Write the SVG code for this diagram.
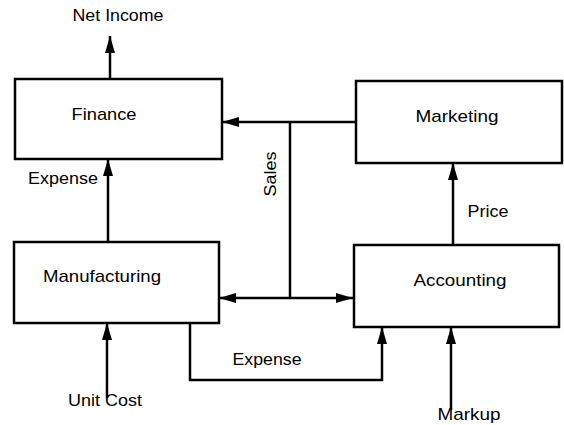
<svg xmlns="http://www.w3.org/2000/svg" width="564" height="425" viewBox="0 0 564 425">
<defs>
<marker id="ah" markerUnits="userSpaceOnUse" markerWidth="18" markerHeight="11" refX="17" refY="5" orient="auto">
<path d="M0,0 L17,5 L0,10 z" fill="#000"/>
</marker>
<style>
.box{fill:#fff;stroke:#000;stroke-width:2.5}
.ln{fill:none;stroke:#000;stroke-width:2.5}
.ar{fill:none;stroke:#000;stroke-width:2.5;marker-end:url(#ah)}
text{font-family:"Liberation Sans",Arial,sans-serif;font-size:17px;fill:#000}
.c{text-anchor:middle}
</style>
</defs>
<rect width="564" height="425" fill="#fff"/>
<g id="connectors">
<path class="ar" d="M110,79 V36"/>
<path class="ar" d="M108,242 V159"/>
<path class="ar" d="M356,122 H222"/>
<path class="ln" d="M290,122 V298"/>
<path class="ar" d="M290,298 H219"/>
<path class="ar" d="M290,298 H353"/>
<path class="ar" d="M453,245 V163"/>
<path class="ar" d="M190,323 V380 H382 V327"/>
<path class="ar" d="M107,398 V323"/>
<path class="ar" d="M451,410 V327"/>
</g>
<g id="finance"><rect class="box" x="15" y="79" width="207" height="80"/><text x="104" y="120" class="c" textLength="65" lengthAdjust="spacingAndGlyphs">Finance</text></g>
<g id="marketing"><rect class="box" x="356" y="81" width="206" height="82"/><text x="457" y="122" class="c" textLength="83" lengthAdjust="spacingAndGlyphs">Marketing</text></g>
<g id="manufacturing"><rect class="box" x="14" y="242" width="205" height="81"/><text x="102" y="282" class="c" textLength="118" lengthAdjust="spacingAndGlyphs">Manufacturing</text></g>
<g id="accounting"><rect class="box" x="354" y="245" width="205" height="82"/><text x="460" y="286" class="c" textLength="93" lengthAdjust="spacingAndGlyphs">Accounting</text></g>
<g id="labels">
<text x="118" y="21" class="c" textLength="91" lengthAdjust="spacingAndGlyphs">Net Income</text>
<text x="63" y="184" class="c" textLength="70" lengthAdjust="spacingAndGlyphs">Expense</text>
<text transform="translate(276,174) rotate(-90)" class="c" textLength="45" lengthAdjust="spacingAndGlyphs">Sales</text>
<text x="488" y="217" class="c" textLength="41" lengthAdjust="spacingAndGlyphs">Price</text>
<text x="267" y="365" class="c" textLength="69" lengthAdjust="spacingAndGlyphs">Expense</text>
<text x="105" y="406" class="c" textLength="74" lengthAdjust="spacingAndGlyphs">Unit Cost</text>
<text x="469" y="420" class="c" textLength="63" lengthAdjust="spacingAndGlyphs">Markup</text>
</g>
</svg>
